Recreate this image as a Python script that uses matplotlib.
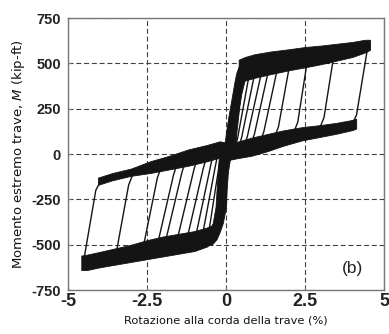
import matplotlib
matplotlib.use("Agg")
import matplotlib.pyplot as plt

# ---------------- data ----------------
x_ticks = [-5, -2.5, 0, 2.5, 5]
x_tick_labels = ["-5", "-2.5", "0", "2.5", "5"]
y_ticks = [-750, -500, -250, 0, 250, 500, 750]
y_tick_labels = ["-750", "-500", "-250", "0", "250", "500", "750"]

# dense scatter bands of the repeated cycles (rotation %, moment kip-ft)
upper_band_x = [0.40, 0.60, 0.90, 1.40, 2.00, 2.50, 3.00, 3.50, 4.00, 4.40, 4.56]
upper_band_top = [520, 535, 550, 565, 578, 590, 598, 608, 618, 630, 630]
upper_band_bot = [390, 405, 420, 440, 462, 478, 495, 515, 535, 560, 575]

lower_right_x = [-0.10, 0.30, 0.80, 1.30, 1.80, 2.40, 3.00, 3.50, 4.00, 4.12]
lower_right_top = [45, 65, 90, 110, 130, 148, 160, 172, 188, 195]
lower_right_bot = [-40, -25, -10, 15, 45, 75, 95, 112, 132, 140]

lower_band_x = [-4.58, -4.40, -4.00, -3.50, -3.00, -2.50, -2.00, -1.50, -1.00, -0.60, -0.40]
lower_band_top = [-560, -555, -540, -520, -500, -475, -455, -440, -425, -405, -390]
lower_band_bot = [-640, -640, -625, -610, -595, -580, -565, -550, -535, -510, -480]

upper_left_x = [-4.05, -3.60, -3.00, -2.40, -1.80, -1.20, -0.60, -0.20, 0.10]
upper_left_top = [-130, -105, -80, -40, -10, 25, 50, 70, 60]
upper_left_bot = [-170, -145, -120, -105, -85, -65, -40, -20, -10]

# steep central branches (moment, rotation limits)
s_up_m = [-20, 50, 120, 200, 260, 330, 400, 450, 490]
s_up_left = [-0.15, -0.05, 0.00, 0.07, 0.13, 0.20, 0.27, 0.33, 0.42]
s_up_right = [0.25, 0.30, 0.33, 0.38, 0.42, 0.48, 0.58, 0.70, 0.90]

s_dn_m = [60, 0, -100, -200, -290, -380, -430, -470, -500]
s_dn_left = [-0.25, -0.22, -0.26, -0.30, -0.33, -0.42, -0.55, -0.70, -0.90]
s_dn_right = [0.20, 0.15, 0.06, 0.02, 0.00, -0.10, -0.20, -0.30, -0.45]

# unloading branches from positive peaks
pos_peak_x = [0.42, 0.62, 0.80, 0.98, 1.20, 1.42, 1.70, 2.07, 2.62, 3.45, 4.50]
pos_peak_m = [470, 490, 500, 505, 510, 520, 530, 545, 565, 585, 605]
pos_knee_x = [0.16, 0.26, 0.37, 0.50, 0.68, 0.90, 1.20, 1.66, 2.27, 3.10, 4.13]
pos_knee_m = [80, 85, 90, 95, 100, 110, 125, 150, 175, 200, 215]
pos_foot_x = [0.08, 0.16, 0.26, 0.38, 0.55, 0.76, 1.05, 1.50, 2.10, 2.93, 3.98]
pos_foot_m = [0, 8, 12, 18, 28, 38, 50, 75, 100, 128, 160]

# unloading branches from negative peaks
neg_peak_x = [-0.40, -0.58, -0.78, -1.00, -1.27, -1.59, -1.96, -2.20, -2.65, -3.50, -4.52]
neg_peak_m = [-455, -470, -480, -488, -495, -505, -515, -522, -540, -570, -605]
neg_knee_x = [-0.12, -0.22, -0.34, -0.50, -0.72, -1.02, -1.40, -1.66, -2.17, -3.08, -4.12]
neg_knee_m = [-60, -65, -70, -75, -80, -90, -105, -115, -130, -170, -200]
neg_foot_x = [-0.05, -0.14, -0.25, -0.40, -0.60, -0.90, -1.27, -1.52, -2.02, -2.92, -3.97]
neg_foot_m = [15, 12, 8, 5, -5, -15, -28, -40, -60, -100, -150]

# ---------------- figure ----------------
W, H = 389, 334
fig = plt.figure(figsize=(W / 100, H / 100), dpi=100)
ax = fig.add_axes([68 / W, 1 - 290 / H, (384 - 68) / W, (290 - 18) / H])

ink = "#141414"
ax.fill_between(upper_band_x, upper_band_bot, upper_band_top, color=ink, lw=0.6, zorder=3)
ax.fill_between(lower_right_x, lower_right_bot, lower_right_top, color=ink, lw=0.6, zorder=3)
ax.fill_between(lower_band_x, lower_band_bot, lower_band_top, color=ink, lw=0.6, zorder=3)
ax.fill_between(upper_left_x, upper_left_bot, upper_left_top, color=ink, lw=0.6, zorder=3)
ax.fill_betweenx(s_up_m, s_up_left, s_up_right, color=ink, lw=0.6, zorder=3)
ax.fill_betweenx(s_dn_m, s_dn_left, s_dn_right, color=ink, lw=0.6, zorder=3)

for i in range(len(pos_peak_x)):
    ax.plot([pos_peak_x[i], pos_knee_x[i], pos_foot_x[i]],
            [pos_peak_m[i], pos_knee_m[i], pos_foot_m[i]],
            color=ink, lw=1.0, zorder=3, solid_joinstyle="round")
for i in range(len(neg_peak_x)):
    ax.plot([neg_peak_x[i], neg_knee_x[i], neg_foot_x[i]],
            [neg_peak_m[i], neg_knee_m[i], neg_foot_m[i]],
            color=ink, lw=1.0, zorder=3, solid_joinstyle="round")

ax.set_xlim(-5, 5)
ax.set_ylim(-750, 750)
ax.set_xticks(x_ticks)
ax.set_xticklabels(x_tick_labels)
ax.set_yticks(y_ticks)
ax.set_yticklabels(y_tick_labels)

ax.grid(True, color="#404040", lw=0.8, linestyle=(0, (4.5, 2.5)), zorder=1)
ax.set_axisbelow(True)
for s in ax.spines.values():
    s.set_color("#777777")
    s.set_linewidth(1.0)

for lab in ax.get_yticklabels():
    lab.set_fontfamily("Liberation Sans")
    lab.set_fontweight("bold")
    lab.set_fontsize(10.5)
    lab.set_color("#222222")
for lab in ax.get_xticklabels():
    lab.set_fontfamily("Liberation Sans")
    lab.set_fontweight("bold")
    lab.set_fontsize(13)
    lab.set_color("#222222")
ax.tick_params(axis="both", direction="in", length=2.5, width=0.8, color="#777777")
ax.tick_params(axis="x", pad=2)
ax.tick_params(axis="y", pad=5)

ax.set_xlabel("Rotazione alla corda della trave (%)", family="DejaVu Sans",
              fontsize=8.2, color="#111111", labelpad=4)
ax.set_ylabel(r"Momento estremo trave, $\mathit{M}$ (kip-ft)", family="DejaVu Sans",
              fontsize=9.5, color="#111111", labelpad=3)

ax.text(4.0, -634, "(b)", family="Liberation Sans", fontsize=12.5, color="#222222",
        ha="center", va="center", zorder=4)

fig.savefig("out.png", dpi=100)
